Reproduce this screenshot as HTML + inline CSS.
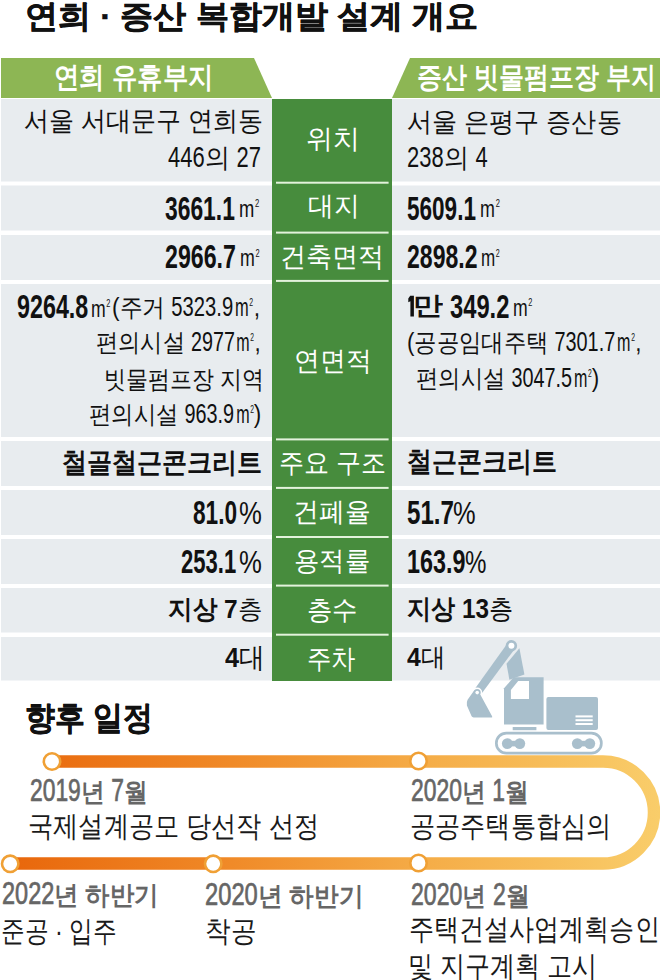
<!DOCTYPE html>
<html lang="ko"><head><meta charset="utf-8"><title>연희 · 증산 복합개발 설계 개요</title>
<style>
html,body{margin:0;padding:0;background:#fff;}
body{width:660px;height:980px;position:relative;overflow:hidden;font-family:"Liberation Sans",sans-serif;}
svg{position:absolute;left:0;top:0;}
.t{position:absolute;white-space:nowrap;line-height:1;transform-origin:0 0;}
.t b{font-weight:bold;}
.u{display:inline-block;transform:scaleX(0.72);transform-origin:0 0;font-weight:normal;margin-right:-0.3em;margin-left:0.08em;}
.s{font-size:0.42em;vertical-align:0.95em;margin-left:0.1em;}
.bt{-webkit-text-stroke:0.5px currentColor;}
.d{display:inline-block;font-size:1.11em;transform:scaleX(0.8);transform-origin:0 0;}
.dd{display:inline-block;font-size:1.18em;font-weight:normal;-webkit-text-stroke:0.7px currentColor;transform:scaleX(0.82);transform-origin:0 0;}

</style></head><body>
<svg width="660" height="980" viewBox="0 0 660 980">
<polygon points="1,58 254,58 272,98 1,98" fill="#8db654"/>
<polygon points="410,58 660,58 660,98 392,98" fill="#8db654"/>
<rect x="1" y="99" width="271" height="82.5" fill="#e8ecef"/>
<rect x="392" y="99" width="268" height="82.5" fill="#e8ecef"/>
<rect x="1" y="185.5" width="271" height="45.0" fill="#e8ecef"/>
<rect x="392" y="185.5" width="268" height="45.0" fill="#e8ecef"/>
<rect x="1" y="235" width="271" height="45" fill="#e8ecef"/>
<rect x="392" y="235" width="268" height="45" fill="#e8ecef"/>
<rect x="1" y="284" width="271" height="153" fill="#e8ecef"/>
<rect x="392" y="284" width="268" height="153" fill="#e8ecef"/>
<rect x="1" y="441" width="271" height="45" fill="#e8ecef"/>
<rect x="392" y="441" width="268" height="45" fill="#e8ecef"/>
<rect x="1" y="490" width="271" height="45" fill="#e8ecef"/>
<rect x="392" y="490" width="268" height="45" fill="#e8ecef"/>
<rect x="1" y="539" width="271" height="45" fill="#e8ecef"/>
<rect x="392" y="539" width="268" height="45" fill="#e8ecef"/>
<rect x="1" y="588" width="271" height="44.5" fill="#e8ecef"/>
<rect x="392" y="588" width="268" height="44.5" fill="#e8ecef"/>
<rect x="1" y="637" width="271" height="43.5" fill="#e8ecef"/>
<rect x="392" y="637" width="268" height="43.5" fill="#e8ecef"/>
<rect x="272" y="99" width="120" height="582" fill="#478c3d"/>
<rect x="276" y="181.7" width="112.6" height="2" fill="#e3f2dc"/>
<rect x="276" y="231.6" width="112.6" height="2" fill="#e3f2dc"/>
<rect x="276" y="279.9" width="112.6" height="2" fill="#e3f2dc"/>
<rect x="276" y="438.4" width="112.6" height="2" fill="#e3f2dc"/>
<rect x="276" y="486.9" width="112.6" height="2" fill="#e3f2dc"/>
<rect x="276" y="536.0" width="112.6" height="2" fill="#e3f2dc"/>
<rect x="276" y="584.6" width="112.6" height="2" fill="#e3f2dc"/>
<rect x="276" y="633.7" width="112.6" height="2" fill="#e3f2dc"/>
<defs><linearGradient id="og" x1="0" y1="0" x2="660" y2="0" gradientUnits="userSpaceOnUse">
<stop offset="0" stop-color="#e8650a"/><stop offset="0.35" stop-color="#f08a28"/><stop offset="0.65" stop-color="#f5ad48"/><stop offset="1" stop-color="#f9cd6a"/></linearGradient></defs>
<path d="M52,761.5 L603,761.5 A51,51 0 0 1 603,863.5 L10,863.5" fill="none" stroke="url(#og)" stroke-width="12.5"/>
<circle cx="52" cy="761.5" r="8.2" fill="#fff" stroke="#f0a035" stroke-width="2.6"/>
<circle cx="418.5" cy="761" r="8.2" fill="#fff" stroke="#f0a035" stroke-width="2.6"/>
<circle cx="10.2" cy="863.8" r="8.2" fill="#fff" stroke="#f0a035" stroke-width="2.6"/>
<circle cx="213.2" cy="863.8" r="8.2" fill="#fff" stroke="#f0a035" stroke-width="2.6"/>
<circle cx="418.5" cy="863" r="8.2" fill="#fff" stroke="#f0a035" stroke-width="2.6"/>
<path d="M410.2,295.8 L413.9,295.8 L413.9,316.5 L410.4,316.5 L410.4,301.2 L408.3,302.2 L408.3,298.6 Z" fill="#111"/>
<g fill="#a9bfcc">
<path d="M507.68,642.99 L515.12,648.41 L480.59,695.07 L473.81,690.13 Z"/>
<circle cx="511.4" cy="645.7" r="5.7"/>
<path d="M519.4,648.3 L524.4,674.5 L509.4,679.8 L506.5,663.8 Z"/>
<path d="M504,688.2 L513.6,677.3 L543.6,677.3 L543.6,724.5 L504,724.5 Z"/>
<rect x="546.4" y="697" width="51.6" height="33" rx="2"/>
<rect x="512.7" y="727" width="23.7" height="3.2"/>
</g>
<circle cx="511.4" cy="645.7" r="3" fill="#fff"/>
<circle cx="477.2" cy="692.6" r="5" fill="#fff"/>
<path d="M474.3,690.3 L467.6,699.8 Q466.4,702 466.9,705.5 L471.6,716.3 Q472.2,717.4 473.6,717.4 L491.6,717.6 Q492.6,717.4 492.1,716.2 L480.4,694.8 Z" fill="#a9bfcc"/>
<circle cx="477.2" cy="692.6" r="3.5" fill="#a9bfcc"/>
<circle cx="477.2" cy="692.6" r="1.8" fill="#fff"/>
<path d="M510.9,690 L518.2,680.9 L529,680.9 L529,699 L510.9,699 Z" fill="#fff"/>
<rect x="575.5" y="715.4" width="17.2" height="2" fill="#fff"/>
<rect x="575.5" y="719.2" width="17.2" height="2" fill="#fff"/>
<rect x="575.5" y="723" width="17.2" height="2" fill="#fff"/>
<rect x="496.35" y="733.15" width="105" height="20" rx="10" fill="none" stroke="#a9bfcc" stroke-width="2.7"/>
<g fill="#a9bfcc"><circle cx="507.3" cy="743.6" r="5.4"/><circle cx="519.8" cy="743.6" r="5.4"/><rect x="507.3" y="740.8" width="12.5" height="5.6"/>
<circle cx="577.3" cy="743.6" r="5.4"/><circle cx="589.8" cy="743.6" r="5.4"/><rect x="577.3" y="740.8" width="12.5" height="5.6"/></g>
</svg>
<div class="t" style="left:25.24px;top:-0.50px;font-size:32.0px;font-weight:bold;color:#111;transform:scaleX(1.0321)"><span class="bt">연희 · 증산 복합개발 설계 개요</span></div>
<div class="t" style="left:54.25px;top:62.50px;font-size:28.82px;font-weight:bold;color:#fff;transform:scaleX(0.8750)">연희 유휴부지</div>
<div class="t" style="left:416.84px;top:63.20px;font-size:28.82px;font-weight:bold;color:#fff;transform:scaleX(0.8625)">증산 빗물펌프장 부지</div>
<div class="t" style="left:306.01px;top:124.95px;font-size:27.32px;font-weight:normal;color:#fff;transform:scaleX(0.9958)">위치</div>
<div class="t" style="left:308.04px;top:192.20px;font-size:27.32px;font-weight:normal;color:#fff;transform:scaleX(0.9551)">대지</div>
<div class="t" style="left:279.80px;top:242.85px;font-size:27.32px;font-weight:normal;color:#fff;transform:scaleX(0.9653)">건축면적</div>
<div class="t" style="left:293.69px;top:347.00px;font-size:27.32px;font-weight:normal;color:#fff;transform:scaleX(0.9573)">연면적</div>
<div class="t" style="left:278.74px;top:448.70px;font-size:27.32px;font-weight:normal;color:#fff;transform:scaleX(0.9277)">주요 구조</div>
<div class="t" style="left:292.64px;top:498.05px;font-size:27.32px;font-weight:normal;color:#fff;transform:scaleX(0.9539)">건폐율</div>
<div class="t" style="left:293.62px;top:546.55px;font-size:27.32px;font-weight:normal;color:#fff;transform:scaleX(0.9416)">용적률</div>
<div class="t" style="left:306.82px;top:596.05px;font-size:27.32px;font-weight:normal;color:#fff;transform:scaleX(0.9400)">층수</div>
<div class="t" style="left:306.89px;top:645.00px;font-size:27.32px;font-weight:normal;color:#fff;transform:scaleX(0.9038)">주차</div>
<div class="t" style="left:23.57px;top:108.00px;font-size:26.73px;font-weight:normal;color:#111;transform:scaleX(0.9267)">서울 서대문구 연희동</div>
<div class="t" style="left:168.30px;top:142.15px;font-size:26.73px;font-weight:normal;color:#111;transform:scaleX(0.9250)"><span class="d" style="margin-right:-0.334em">446</span>의 <span class="d" style="margin-right:-0.222em">27</span></div>
<div class="t" style="left:165.30px;top:192.60px;font-size:32.7px;font-weight:bold;color:#111;transform:scaleX(0.6990)">3661.1</div>
<div class="t" style="left:237.31px;top:196.70px;font-size:24.71px;font-weight:normal;color:#111;transform:scaleX(1.0316)"><span class="u">m<span class="s">2</span></span></div>
<div class="t" style="left:165.29px;top:241.40px;font-size:32.7px;font-weight:bold;color:#111;transform:scaleX(0.7092)">2966.7</div>
<div class="t" style="left:238.00px;top:246.35px;font-size:24.71px;font-weight:normal;color:#111;transform:scaleX(1.0000)"><span class="u">m<span class="s">2</span></span></div>
<div class="t" style="left:17.19px;top:291.15px;font-size:32.7px;font-weight:bold;color:#111;transform:scaleX(0.7133)">9264.8</div>
<div class="t" style="left:88.73px;top:296.75px;font-size:24.71px;font-weight:normal;color:#111;transform:scaleX(0.9895)"><span class="u">m<span class="s">2</span></span></div>
<div class="t" style="left:112.49px;top:293.10px;font-size:25.03px;font-weight:normal;color:#111;transform:scaleX(0.9112)">(주거 <span class="d" style="margin-right:-0.612em">5323.9</span><span class="u">m<span class="s">2</span></span>,</div>
<div class="t" style="left:95.81px;top:328.10px;font-size:25.03px;font-weight:normal;color:#111;transform:scaleX(0.8880)">편의시설 <span class="d" style="margin-right:-0.445em">2977</span><span class="u">m<span class="s">2</span></span>,</div>
<div class="t" style="left:103.74px;top:366.50px;font-size:25.03px;font-weight:normal;color:#111;transform:scaleX(0.8790)">빗물펌프장 지역</div>
<div class="t" style="left:88.91px;top:400.40px;font-size:25.03px;font-weight:normal;color:#111;transform:scaleX(0.8921)">편의시설 <span class="d" style="margin-right:-0.500em">963.9</span><span class="u">m<span class="s">2</span></span>)</div>
<div class="t" style="left:62.31px;top:448.65px;font-size:27.96px;font-weight:bold;color:#111;transform:scaleX(0.8941)">철골철근콘크리트</div>
<div class="t" style="left:192.91px;top:497.35px;font-size:32.7px;font-weight:bold;color:#111;transform:scaleX(0.6935)">81.0</div>
<div class="t" style="left:239.18px;top:498.40px;font-size:31.5px;font-weight:normal;color:#111;transform:scaleX(0.8154)">%</div>
<div class="t" style="left:181.32px;top:545.75px;font-size:32.7px;font-weight:bold;color:#111;transform:scaleX(0.6750)">253.1</div>
<div class="t" style="left:239.18px;top:546.50px;font-size:31.5px;font-weight:normal;color:#111;transform:scaleX(0.8154)">%</div>
<div class="t" style="left:168.26px;top:597.40px;font-size:25.93px;font-weight:normal;color:#111;transform:scaleX(0.9443)"><b>지상 7</b>층</div>
<div class="t" style="left:225.00px;top:643.90px;font-size:27.64px;font-weight:normal;color:#111;transform:scaleX(0.9179)"><b>4</b>대</div>
<div class="t" style="left:406.67px;top:108.85px;font-size:26.73px;font-weight:normal;color:#111;transform:scaleX(0.9298)">서울 은평구 증산동</div>
<div class="t" style="left:407.37px;top:142.10px;font-size:26.73px;font-weight:normal;color:#111;transform:scaleX(0.9256)"><span class="d" style="margin-right:-0.334em">238</span>의 <span class="d" style="margin-right:-0.111em">4</span></div>
<div class="t" style="left:406.71px;top:192.60px;font-size:32.7px;font-weight:bold;color:#111;transform:scaleX(0.6898)">5609.1</div>
<div class="t" style="left:478.38px;top:196.70px;font-size:24.71px;font-weight:normal;color:#111;transform:scaleX(1.0053)"><span class="u">m<span class="s">2</span></span></div>
<div class="t" style="left:406.99px;top:241.40px;font-size:32.7px;font-weight:bold;color:#111;transform:scaleX(0.7051)">2898.2</div>
<div class="t" style="left:479.43px;top:246.35px;font-size:24.71px;font-weight:normal;color:#111;transform:scaleX(0.9579)"><span class="u">m<span class="s">2</span></span></div>
<div class="t" style="left:413.30px;top:292.65px;font-size:25.39px;font-weight:bold;color:#111;transform:scaleX(1.2000)">만</div>
<div class="t" style="left:450.37px;top:290.65px;font-size:32.7px;font-weight:bold;color:#111;transform:scaleX(0.7262)">349.2</div>
<div class="t" style="left:511.03px;top:295.65px;font-size:24.71px;font-weight:normal;color:#111;transform:scaleX(0.9895)"><span class="u">m<span class="s">2</span></span></div>
<div class="t" style="left:406.91px;top:327.60px;font-size:25.03px;font-weight:normal;color:#111;transform:scaleX(0.8938)">(공공임대주택 <span class="d" style="margin-right:-0.612em">7301.7</span><span class="u">m<span class="s">2</span></span>,</div>
<div class="t" style="left:415.81px;top:363.50px;font-size:25.03px;font-weight:normal;color:#111;transform:scaleX(0.8921)">편의시설 <span class="d" style="margin-right:-0.612em">3047.5</span><span class="u">m<span class="s">2</span></span>)</div>
<div class="t" style="left:407.01px;top:448.40px;font-size:27.64px;font-weight:bold;color:#111;transform:scaleX(0.8922)">철근콘크리트</div>
<div class="t" style="left:406.66px;top:497.20px;font-size:32.7px;font-weight:bold;color:#111;transform:scaleX(0.7387)">51.7</div>
<div class="t" style="left:453.19px;top:498.00px;font-size:31.5px;font-weight:normal;color:#111;transform:scaleX(0.8077)">%</div>
<div class="t" style="left:407.17px;top:546.35px;font-size:32.7px;font-weight:bold;color:#111;transform:scaleX(0.7139)">163.9</div>
<div class="t" style="left:465.23px;top:547.00px;font-size:31.5px;font-weight:normal;color:#111;transform:scaleX(0.7654)">%</div>
<div class="t" style="left:406.81px;top:594.80px;font-size:27.21px;font-weight:normal;color:#111;transform:scaleX(0.8940)"><b>지상 13</b>층</div>
<div class="t" style="left:407.40px;top:644.45px;font-size:26.25px;font-weight:normal;color:#111;transform:scaleX(0.9421)"><b>4</b>대</div>
<div class="t" style="left:25.49px;top:702.40px;font-size:32.9px;font-weight:bold;color:#111;transform:scaleX(0.9051)"><span class="bt">향후 일정</span></div>
<div class="t" style="left:29.99px;top:774.85px;font-size:25.86px;font-weight:bold;color:#666;transform:scaleX(0.9135)"><span class="dd" style="margin-right:-0.400em">2019</span>년 <span class="dd" style="margin-right:-0.100em">7</span>월</div>
<div class="t" style="left:28.06px;top:812.45px;font-size:28.82px;font-weight:normal;color:#1a1a1a;transform:scaleX(0.8684)">국제설계공모 당선작 선정</div>
<div class="t" style="left:411.19px;top:775.15px;font-size:25.86px;font-weight:bold;color:#666;transform:scaleX(0.9143)"><span class="dd" style="margin-right:-0.400em">2020</span>년 <span class="dd" style="margin-right:-0.100em">1</span>월</div>
<div class="t" style="left:410.36px;top:812.00px;font-size:28.82px;font-weight:normal;color:#1a1a1a;transform:scaleX(0.8677)">공공주택통합심의</div>
<div class="t" style="left:2.06px;top:878.20px;font-size:25.86px;font-weight:bold;color:#666;transform:scaleX(0.9393)"><span class="dd" style="margin-right:-0.400em">2022</span>년 하반기</div>
<div class="t" style="left:1.37px;top:916.65px;font-size:28.82px;font-weight:normal;color:#1a1a1a;transform:scaleX(0.8174)">준공 · 입주</div>
<div class="t" style="left:205.45px;top:878.50px;font-size:25.86px;font-weight:bold;color:#666;transform:scaleX(0.9485)"><span class="dd" style="margin-right:-0.400em">2020</span>년 하반기</div>
<div class="t" style="left:204.64px;top:917.45px;font-size:28.82px;font-weight:normal;color:#1a1a1a;transform:scaleX(0.8815)">착공</div>
<div class="t" style="left:410.88px;top:879.00px;font-size:25.86px;font-weight:bold;color:#666;transform:scaleX(0.9222)"><span class="dd" style="margin-right:-0.400em">2020</span>년 <span class="dd" style="margin-right:-0.100em">2</span>월</div>
<div class="t" style="left:409.27px;top:915.40px;font-size:28.82px;font-weight:normal;color:#1a1a1a;transform:scaleX(0.8642)">주택건설사업계획승인</div>
<div class="t" style="left:408.41px;top:951.70px;font-size:28.82px;font-weight:normal;color:#1a1a1a;transform:scaleX(0.8642)">및 지구계획 고시</div>
</body></html>
